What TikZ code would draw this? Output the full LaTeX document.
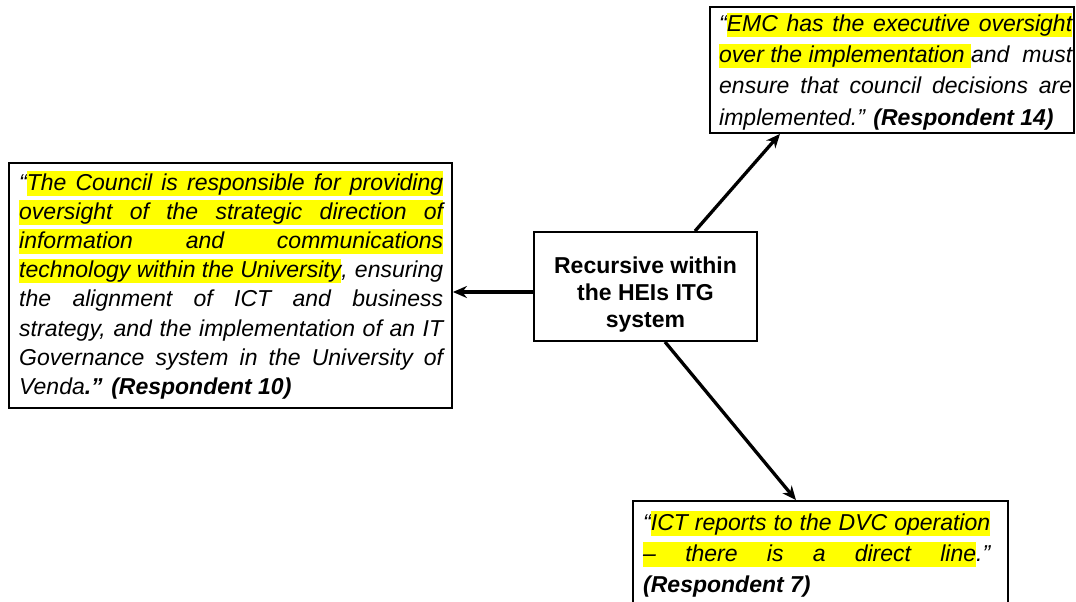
\documentclass[tikz,border=0pt]{standalone}
\usepackage{fontspec}
\setmainfont{Liberation Sans}
\usepackage{xcolor}
\usetikzlibrary{arrows.meta}

\definecolor{hlyellow}{RGB}{255,255,0}

% helpers for justified, partly highlighted quote lines
\newsavebox\pfxbox
\newsavebox\sfxbox
\newlength\lw
\newcommand\hlstrut{\rule[-5.5pt]{0pt}{24.5pt}}
\newcommand\hl[1]{{\setlength\fboxsep{0pt}\colorbox{hlyellow}{\hlstrut#1}}}
\newcommand\jl[1]{\hbox to \lw{#1}}
\newcommand\jhl[3]{\sbox\pfxbox{#1}\sbox\sfxbox{#3}%
  \hbox to \lw{\usebox\pfxbox\hl{\hbox to \dimexpr\lw-\wd\pfxbox-\wd\sfxbox\relax{#2}}\usebox\sfxbox}}

\begin{document}
\begin{tikzpicture}[x=1pt,y=-1pt,
  frame/.style={draw=black,line width=1.8pt,fill=white,inner sep=0pt},
  quote/.style={inner sep=0pt,anchor=base west,font=\fontsize{23pt}{29pt}\selectfont\itshape},
  link/.style={line width=3.3pt,-{Stealth[length=14pt,width=12pt]}}]
  \useasboundingbox (0,0) rectangle (1076,602);
  \clip (0,0) rectangle (1076,602);
  \fill[white] (0,0) rectangle (1076,602);

  % boxes
  \node[frame,minimum width=443pt,minimum height=245pt] (council) at (230.5,285.5) {};
  \node[frame,minimum width=364pt,minimum height=126pt] (emc) at (892,70) {};
  \node[frame,minimum width=375pt,minimum height=139pt] (ict) at (820.5,570.5) {};
  \node[frame,minimum width=223pt,minimum height=109pt] (mid) at (645.5,286.5) {};

  % centre label
  \node[inner sep=0pt,anchor=base,font=\fontsize{23pt}{27pt}\selectfont\bfseries] (midtext) at (645.5,273)
    {\vtop{\baselineskip=27pt
      \hbox to 0pt{\hss Recursive within\hss}
      \hbox to 0pt{\hss the HEIs ITG\hss}
      \hbox to 0pt{\hss system\hss}}};

  % quote texts
  \node[quote] (counciltext) at (19,190) {\vtop{\setlength\lw{424pt}\baselineskip=29.2pt
    \jhl{“}{The Council is responsible for providing}{}
    \jhl{}{oversight of the strategic direction of}{}
    \jhl{}{information and communications}{}
    \jl{\hl{technology within the University}, ensuring}
    \jl{the alignment of ICT and business}
    \jl{strategy, and the implementation of an IT}
    \jl{Governance system in the University of}
    \hbox{Venda\textbf{.”} \textbf{(Respondent 10)}}}};

  \node[quote] (emctext) at (719,32) {\vtop{\setlength\lw{353pt}\baselineskip=31pt
    \jhl{“}{EMC has the executive oversight}{}
    \jl{\hl{over the implementation }and must}
    \jl{ensure that council decisions are}
    \hbox{implemented.” \textbf{(Respondent 14)}}}};

  \node[quote] (icttext) at (643,530) {\vtop{\setlength\lw{347pt}\baselineskip=31pt
    \jhl{“}{ICT reports to the DVC operation}{}
    \jhl{}{– there is a direct line}{.”}
    \hbox{\textbf{(Respondent 7)}}}};

  % connectors
  \draw[link] ([yshift=-5.5pt]mid.west) -- ([yshift=-5.5pt]mid.west -| council.east);
  \draw[link] ([xshift=49.5pt]mid.north) -- ([xshift=-112pt]emc.south);
  \draw[link] ([xshift=19.5pt]mid.south) -- ([xshift=-24.5pt]ict.north);
\end{tikzpicture}
\end{document}
